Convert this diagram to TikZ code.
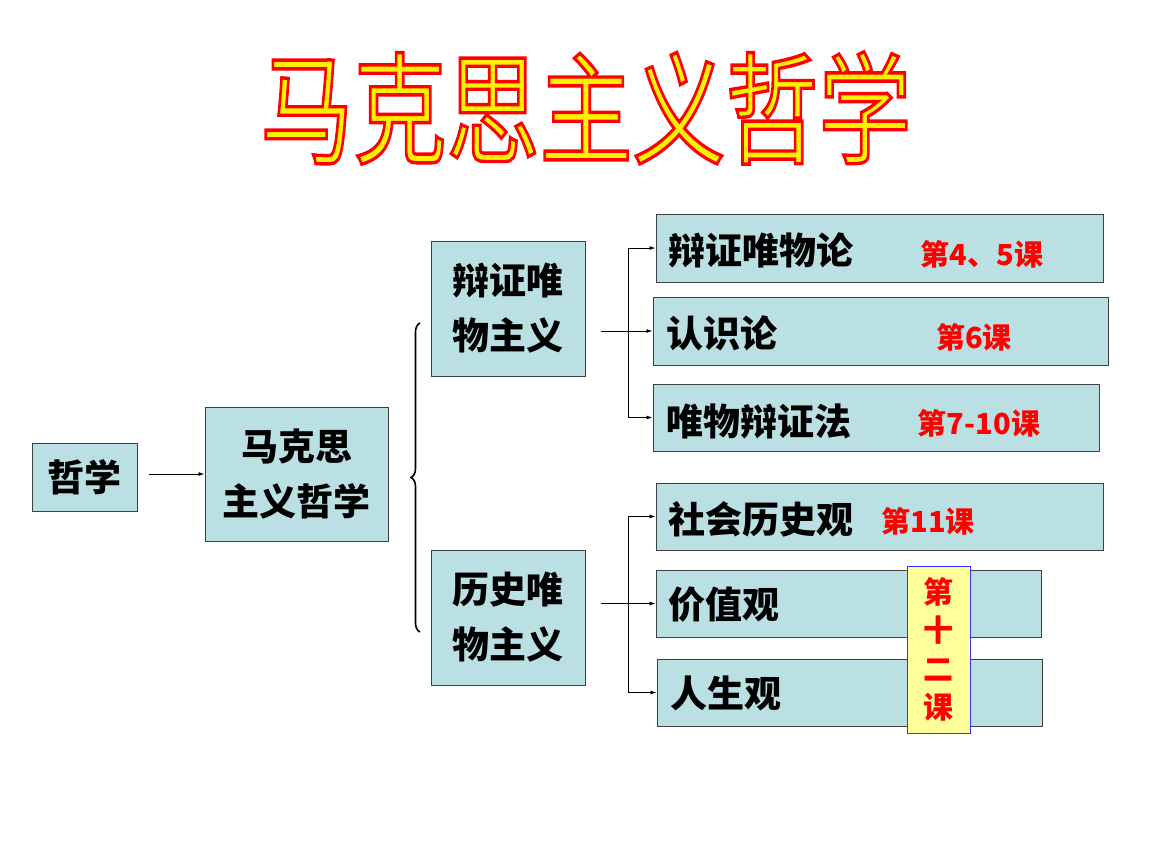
\documentclass[tikz,border=0pt]{standalone}
\usepackage{fontspec}
\setmainfont{Noto Sans CJK SC}
\usetikzlibrary{arrows.meta,decorations.pathreplacing}
\definecolor{boxblue}{RGB}{187,224,227}
\definecolor{noteyellow}{RGB}{255,255,153}
% outlined letters: red stroke, yellow fill
\newcommand{\outlined}[1]{{\color{yellow}%
  \special{pdf:literal direct 2 Tr 2.6 w 1 0 0 RG}#1%
  \special{pdf:literal direct 0 Tr}}}
\begin{document}
\begin{tikzpicture}[x=1pt,y=-1pt,
    box/.style={draw=black!75,line width=1pt,fill=boxblue,inner sep=0pt,
      align=center,font=\bfseries\fontsize{37}{55}\selectfont},
    word/.style={anchor=west,inner sep=0pt,font=\bfseries\fontsize{37}{44}\selectfont},
    lesson/.style={inner sep=0pt,text=red,font=\bfseries\fontsize{29}{34}\selectfont},
    link/.style={line width=0.8pt,-{Latex[length=6pt,width=4pt]}}]
  \useasboundingbox (0,0) rectangle (1152,864);
  % title
  \node (title) at (586,108) {\scalebox{1}[1.3]{\fontsize{93}{100}\selectfont
    \outlined{马克思主义哲学}}};
  % left part
  \node[box,minimum width=105,minimum height=68] (zx) at (84.5,477) {哲学};
  \node[box,minimum width=183,minimum height=134] (mkszx) at (296.5,474)
    {马克思\\主义哲学};
  \draw[link,shorten <=11pt] (zx.east |- mkszx.west) -- (mkszx.west);
  \node[box,minimum width=154,minimum height=135] (bzwwzy) at (508,308.5)
    {辩证唯\\物主义};
  \node[box,minimum width=154,minimum height=135] (lswwzy) at (508,617.5)
    {历史唯\\物主义};
  \draw[line width=1.6pt,decorate,decoration={brace,amplitude=9pt}]
    (420,632) -- (420,323);
  % right part, top
  \node[box,minimum width=447,minimum height=68] (bzwwl) at (879.5,248) {};
  \node[box,minimum width=455,minimum height=68] (rsl) at (880.5,331) {};
  \node[box,minimum width=446,minimum height=67] (wwbzf) at (876,417.5) {};
  \node[word] (bzwwl t) at (668,250) {辩证唯物论};
  \node[word] (rsl t) at (666,333) {认识论};
  \node[word] (wwbzf t) at (666,421) {唯物辩证法};
  \node[lesson] (bzwwl n) at (982,254) {第4、5课};
  \node[lesson] (rsl n) at (974,337) {第6课};
  \node[lesson] (wwbzf n) at (979,423) {第7-10课};
  \coordinate (fork a) at (628,331);
  \draw[link,shorten <=15pt] (bzwwzy.east |- rsl.west) -- (rsl.west);
  \draw[link] (fork a) |- (bzwwl.west);
  \draw[link] (fork a) |- (wwbzf.west);
  % right part, bottom
  \node[box,minimum width=447,minimum height=67] (shlsg) at (879.5,516.5) {};
  \node[box,minimum width=385,minimum height=67] (jzg) at (848.5,603.5) {};
  \node[box,minimum width=385,minimum height=67] (rsg) at (849.5,692.5) {};
  \node[word] (shlsg t) at (668,519) {社会历史观};
  \node[word] (jzg t) at (668,605) {价值观};
  \node[word] (rsg t) at (670,693) {人生观};
  \node[lesson] (shlsg n) at (928,521) {第11课};
  \node[draw=blue!80,line width=1pt,fill=noteyellow,minimum width=63,
    minimum height=167,inner sep=0pt,align=center,text=red,
    font=\bfseries\fontsize{30}{38.5}\selectfont] (sierke) at (938.5,649.5)
    {第\\十\\二\\课};
  \coordinate (fork b) at (628,603.5);
  \draw[link,shorten <=15pt] (lswwzy.east |- jzg.west) -- (jzg.west);
  \draw[link] (fork b) |- (shlsg.west);
  \draw[link] (fork b) |- (rsg.west);
\end{tikzpicture}
\end{document}
